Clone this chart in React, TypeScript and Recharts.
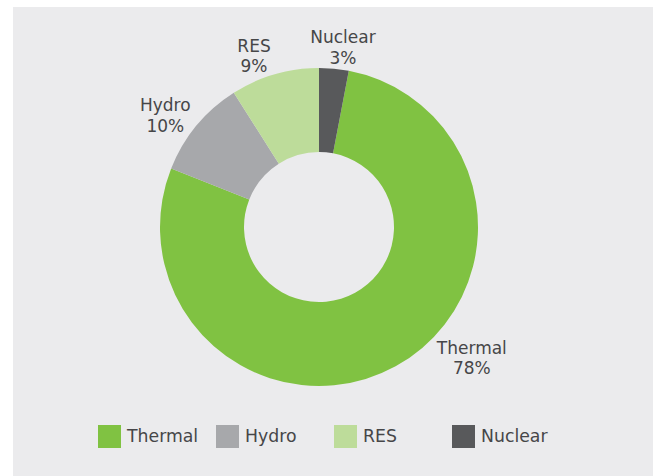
import React from "react";
import { PieChart, Pie, Cell } from "recharts";

const categories = ["Thermal", "Hydro", "RES", "Nuclear"];
const shares = [78, 10, 9, 3];
const colors = ["#80c242", "#a7a8ab", "#bddc9a", "#58595b"];

const data = categories.map((name, i) => ({ name, value: shares[i] }));

// label placement (polar, relative to pie centre)
const labelPlace: Record<string, { r: number; a: number }> = {
  Thermal: { r: 201, a: -40.5 },
  Hydro: { r: 190, a: 144 },
  RES: { r: 183, a: 110.8 },
  Nuclear: { r: 181.5, a: 82.4 },
};

const FONT = "'DejaVu Sans', sans-serif";
const TEXT = "#464648";
const RAD = Math.PI / 180;

const renderLabel = (props: any) => {
  const { cx, cy, name, value } = props;
  const p = labelPlace[name];
  const x = cx + p.r * Math.cos(p.a * RAD);
  const y = cy - p.r * Math.sin(p.a * RAD);
  return (
    <text
      x={x}
      y={y}
      textAnchor="middle"
      fill={TEXT}
      fontSize={17}
      fontFamily={FONT}
    >
      <tspan x={x} dy={-4}>{name}</tspan>
      <tspan x={x} dy={20.5}>{`${value}%`}</tspan>
    </text>
  );
};

function LegendRow() {
  return (
    <div
      style={{
        position: "absolute",
        left: 98,
        top: 425,
        display: "flex",
        fontFamily: FONT,
      }}
    >
      {categories.map((name, i) => (
        <div
          key={name}
          style={{ width: 118, display: "flex", alignItems: "center" }}
        >
          <div
            style={{
              width: 23,
              height: 23,
              background: colors[i],
              marginRight: 6,
            }}
          />
          <span style={{ fontSize: 17.3, color: TEXT, lineHeight: "23px" }}>
            {name}
          </span>
        </div>
      ))}
    </div>
  );
}

export default function App() {
  return (
    <div
      style={{
        position: "absolute",
        left: 0,
        top: 0,
        width: 653,
        height: 476,
        background: "#ffffff",
        overflow: "hidden",
      }}
    >
      <div
        style={{
          position: "absolute",
          left: 13,
          top: 7,
          width: 640,
          height: 469,
          background: "#ebebed",
        }}
      />
      <div style={{ position: "absolute", left: 0, top: 0 }}>
        <PieChart
          width={653}
          height={476}
          margin={{ top: 0, right: 0, bottom: 0, left: 0 }}
        >
          <Pie
            data={data}
            dataKey="value"
            nameKey="name"
            cx={319}
            cy={227}
            innerRadius={75}
            outerRadius={159}
            startAngle={79.2}
            endAngle={-280.8}
            stroke="none"
            label={renderLabel}
            labelLine={false}
            isAnimationActive={false}
          >
            {data.map((d, i) => (
              <Cell key={d.name} fill={colors[i]} />
            ))}
          </Pie>
        </PieChart>
      </div>
      <LegendRow />
    </div>
  );
}
